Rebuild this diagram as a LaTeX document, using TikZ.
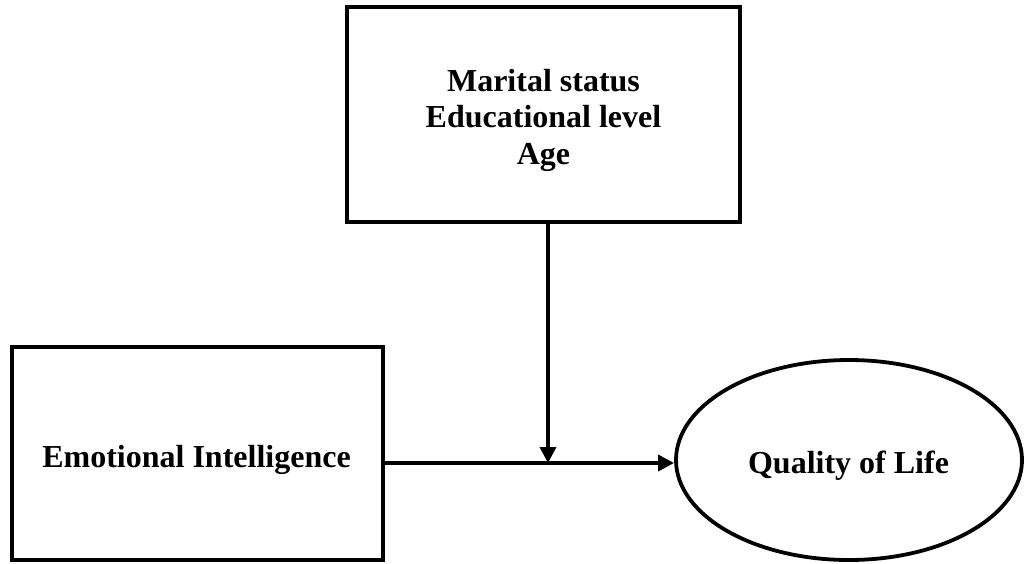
\documentclass[tikz,border=0pt]{standalone}
\usepackage{fontspec}
\setmainfont{Liberation Serif}
\usetikzlibrary{arrows.meta,shapes.geometric}
\tikzset{
  box/.style={draw=black, line width=4pt, rectangle, inner sep=0pt},
  oval/.style={draw=black, line width=3.8pt, ellipse, inner sep=0pt},
  lbl/.style={font=\fontsize{32}{36.5}\selectfont\bfseries, align=center, inner sep=0pt},
  arr/.style={line width=3.6pt, -{Triangle[length=16pt,width=16pt]}}
}
\begin{document}
\begin{tikzpicture}[x=1pt,y=-1pt]
\useasboundingbox (0,0) rectangle (1024,563);
\node[box, minimum width=393pt, minimum height=215pt] (top) at (543.5,114.5) {};
\node[lbl, anchor=north] (toptxt) at (543.5,69) {Marital status\\Educational level\\Age};
\node[box, minimum width=371pt, minimum height=213pt] (ei) at (197.5,453.5) {};
\node[lbl, anchor=base] (eitxt) at (196.5,467) {Emotional Intelligence};
\node[oval, minimum width=346pt, minimum height=200pt] (qol) at (849,460) {};
\node[lbl, anchor=base] (qoltxt) at (848.5,473) {Quality of Life};
\coordinate (j) at (548,463);
\draw[arr] (ei.east |- j) -- (qol.west |- j);
\draw[arr] (top.south -| j) -- (j);
\end{tikzpicture}
\end{document}
